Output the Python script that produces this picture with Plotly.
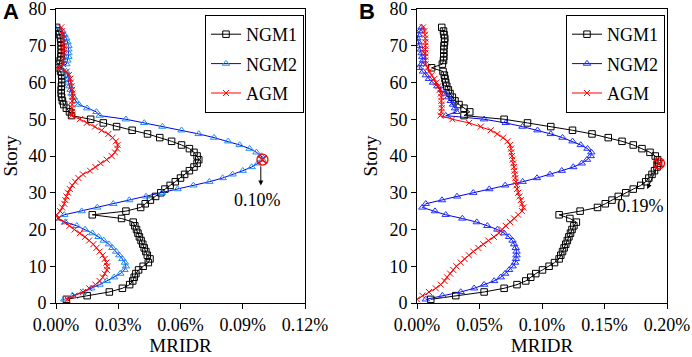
import plotly.graph_objects as go

stories = [75, 74, 73, 72, 71, 70, 69, 68, 67, 66, 65, 64, 63, 62, 61, 60, 59, 58, 57, 56,
           55, 54, 53, 52, 51, 50, 49, 48, 47, 46, 45, 44, 43, 42, 41, 40, 39, 38, 37, 36,
           35, 34, 33, 32, 31, 30, 29, 28, 27, 26, 25, 24, 23, 22, 21, 20, 19, 18, 17, 16,
           15, 14, 13, 12, 11, 10, 9, 8, 7, 6, 5, 4, 3, 2, 1]

# Panel A (values in %)
a_ngm1 = [0.0003, 0.0012, 0.0017, 0.0022, 0.0024, 0.0025, 0.0025, 0.0025, 0.0024, 0.0020,
          0.0014, 0.0003, 0.0022, 0.0027, 0.0028, 0.0028, 0.0026, 0.0025, 0.0025, 0.0027,
          0.0031, 0.0037, 0.0050, 0.0065, 0.0075, 0.0167, 0.0228, 0.0292, 0.0367, 0.0441,
          0.0500, 0.0557, 0.0605, 0.0643, 0.0665, 0.0680, 0.0688, 0.0680, 0.0665, 0.0643,
          0.0620, 0.0600, 0.0575, 0.0550, 0.0525, 0.0505, 0.0480, 0.0455, 0.0430, 0.0408,
          0.0337, 0.0175, 0.0316, 0.0372, 0.0380, 0.0388, 0.0395, 0.0402, 0.0410, 0.0418,
          0.0425, 0.0433, 0.0440, 0.0453, 0.0445, 0.0420, 0.0398, 0.0385, 0.0377, 0.0370,
          0.0355, 0.0320, 0.0257, 0.0150, 0.0050]
a_ngm2 = [0.0010, 0.0030, 0.0040, 0.0050, 0.0055, 0.0060, 0.0060, 0.0060, 0.0060, 0.0055,
          0.0050, 0.0005, 0.0050, 0.0055, 0.0060, 0.0060, 0.0065, 0.0070, 0.0075, 0.0085,
          0.0095, 0.0110, 0.0150, 0.0195, 0.0210, 0.0337, 0.0425, 0.0513, 0.0605, 0.0688,
          0.0762, 0.0830, 0.0885, 0.0933, 0.0966, 0.0990, 0.0995, 0.0973, 0.0943, 0.0900,
          0.0851, 0.0803, 0.0739, 0.0662, 0.0586, 0.0511, 0.0434, 0.0353, 0.0276, 0.0199,
          0.0124, 0.0040, 0.0005, 0.0045, 0.0100, 0.0140, 0.0175, 0.0205, 0.0230, 0.0255,
          0.0272, 0.0290, 0.0305, 0.0320, 0.0332, 0.0337, 0.0330, 0.0310, 0.0280, 0.0245,
          0.0210, 0.0170, 0.0130, 0.0080, 0.0040]
a_agm = [0.0025, 0.0030, 0.0033, 0.0035, 0.0036, 0.0037, 0.0037, 0.0037, 0.0036, 0.0035,
         0.0034, 0.0003, 0.0052, 0.0062, 0.0068, 0.0072, 0.0075, 0.0078, 0.0080, 0.0079,
         0.0078, 0.0078, 0.0078, 0.0078, 0.0075, 0.0115, 0.0148, 0.0188, 0.0220, 0.0252,
         0.0273, 0.0289, 0.0297, 0.0295, 0.0284, 0.0268, 0.0244, 0.0215, 0.0190, 0.0164,
         0.0130, 0.0108, 0.0092, 0.0078, 0.0067, 0.0058, 0.0050, 0.0045, 0.0040, 0.0030,
         0.0020, 0.0003, 0.0010, 0.0040, 0.0065, 0.0090, 0.0115, 0.0140, 0.0160, 0.0180,
         0.0195, 0.0210, 0.0225, 0.0235, 0.0243, 0.0247, 0.0245, 0.0235, 0.0225, 0.0210,
         0.0190, 0.0160, 0.0130, 0.0090, 0.0055]

# Panel B (values in %)
b_ngm1 = [0.0198, 0.0212, 0.0216, 0.0222, 0.0220, 0.0216, 0.0214, 0.0214, 0.0214, 0.0212,
          0.0203, 0.0117, 0.0208, 0.0219, 0.0224, 0.0230, 0.0238, 0.0251, 0.0264, 0.0283,
          0.0304, 0.0336, 0.0376, 0.0422, 0.0376, 0.0697, 0.0884, 0.1070, 0.1244, 0.1400,
          0.1530, 0.1640, 0.1730, 0.1800, 0.1864, 0.1906, 0.1925, 0.1933, 0.1920, 0.1900,
          0.1880, 0.1855, 0.1830, 0.1790, 0.1730, 0.1670, 0.1610, 0.1560, 0.1506, 0.1444,
          0.1305, 0.1137, 0.1223, 0.1275, 0.1255, 0.1240, 0.1228, 0.1215, 0.1203, 0.1190,
          0.1177, 0.1164, 0.1150, 0.1137, 0.1100, 0.1057, 0.1004, 0.0950, 0.0910, 0.0870,
          0.0800, 0.0697, 0.0537, 0.0310, 0.0110]
b_ngm2 = [0.0037, 0.0021, 0.0011, 0.0003, 0.0011, 0.0021, 0.0030, 0.0037, 0.0043, 0.0048,
          0.0037, 0.0016, 0.0048, 0.0070, 0.0096, 0.0128, 0.0163, 0.0198, 0.0224, 0.0250,
          0.0270, 0.0288, 0.0304, 0.0315, 0.0230, 0.0537, 0.0710, 0.0844, 0.0964, 0.1070,
          0.1164, 0.1244, 0.1310, 0.1364, 0.1395, 0.1390, 0.1360, 0.1318, 0.1250, 0.1158,
          0.1064, 0.0960, 0.0845, 0.0705, 0.0578, 0.0450, 0.0320, 0.0200, 0.0070, 0.0043,
          0.0144, 0.0230, 0.0363, 0.0478, 0.0563, 0.0643, 0.0697, 0.0737, 0.0764, 0.0777,
          0.0790, 0.0796, 0.0796, 0.0792, 0.0785, 0.0765, 0.0737, 0.0705, 0.0670, 0.0617,
          0.0537, 0.0457, 0.0350, 0.0203, 0.0070]
b_agm = [0.0048, 0.0060, 0.0064, 0.0067, 0.0067, 0.0067, 0.0067, 0.0067, 0.0067, 0.0067,
         0.0069, 0.0085, 0.0096, 0.0117, 0.0139, 0.0155, 0.0171, 0.0182, 0.0190, 0.0195,
         0.0195, 0.0198, 0.0198, 0.0195, 0.0187, 0.0283, 0.0417, 0.0510, 0.0590, 0.0643,
         0.0689, 0.0724, 0.0745, 0.0752, 0.0755, 0.0760, 0.0765, 0.0770, 0.0775, 0.0780,
         0.0783, 0.0787, 0.0790, 0.0795, 0.0800, 0.0810, 0.0820, 0.0830, 0.0840, 0.0850,
         0.0840, 0.0810, 0.0777, 0.0745, 0.0710, 0.0680, 0.0655, 0.0615, 0.0570, 0.0530,
         0.0490, 0.0450, 0.0415, 0.0380, 0.0350, 0.0315, 0.0290, 0.0265, 0.0240, 0.0220,
         0.0190, 0.0150, 0.0096, 0.0043, 0.0000]

series_names = ["NGM1", "NGM2", "AGM"]
peak_a = (0.0995, 39)
peak_b = (0.1936, 38)
peak_label_a = "0.10%"
peak_label_b = "0.19%"

W, H = 692, 357
SERIF = "Liberation Serif"
FS = 18

def px(x0, x1):
    return [x0 / W, x1 / W]

ydom = [(H - 303) / H, (H - 9) / H]

fig = go.Figure()

styles = [
    dict(line=dict(color="black", width=1),
         marker=dict(symbol="square-open", size=6.5, color="black", line=dict(width=1))),
    dict(line=dict(color="#0000EE", width=1),
         marker=dict(symbol="triangle-up-open", size=6.5, color="#1E8FF0", line=dict(width=1))),
    dict(line=dict(color="#FF0000", width=1),
         marker=dict(symbol="x-thin-open", size=6, color="#FF0000", line=dict(width=1, color="#FF0000"))),
]
styles_b = [
    styles[0],
    dict(line=dict(color="#0000EE", width=1),
         marker=dict(symbol="triangle-up-open", size=6.5, color="#2233FF", line=dict(width=1))),
    styles[2],
]

for name, vals, st in zip(series_names, [a_ngm1, a_ngm2, a_agm], styles):
    fig.add_trace(go.Scatter(x=vals, y=stories, mode="lines+markers", name=name,
                             xaxis="x", yaxis="y", legend="legend", legendgroup="a" + name,
                             **st))
for name, vals, st in zip(series_names, [b_ngm1, b_ngm2, b_agm], styles_b):
    fig.add_trace(go.Scatter(x=vals, y=stories, mode="lines+markers", name=name,
                             xaxis="x2", yaxis="y2", legend="legend2", legendgroup="b" + name,
                             **st))

# peak markers
fig.add_trace(go.Scatter(x=[peak_a[0]], y=[peak_a[1]], mode="markers", showlegend=False,
                         xaxis="x", yaxis="y",
                         marker=dict(symbol="circle-x-open", size=11, color="#FF0000",
                                     line=dict(width=1.3))))
fig.add_trace(go.Scatter(x=[peak_b[0]], y=[peak_b[1]], mode="markers", showlegend=False,
                         xaxis="x2", yaxis="y2",
                         marker=dict(symbol="circle-x-open", size=11, color="#FF0000",
                                     line=dict(width=1.3))))

axis_common = dict(showline=True, linecolor="black", linewidth=1, mirror=True,
                   showgrid=False, zeroline=False, ticks="outside", ticklen=5,
                   tickcolor="black", automargin=False, ticklabeloverflow="allow",
                   tickfont=dict(family=SERIF, size=FS, color="black"))
title_font = dict(family=SERIF, size=FS + 1, color="black")

fig.update_layout(
    width=W, height=H, autosize=False,
    margin=dict(l=0, r=0, t=0, b=0, pad=0),
    paper_bgcolor="white", plot_bgcolor="white",
    xaxis=dict(domain=px(56, 305), range=[0, 0.12], dtick=0.03, tick0=0,
               tickformat=".2f", ticksuffix="%", anchor="y",
               title=dict(text="MRIDR", font=title_font, standoff=4),
               **axis_common),
    yaxis=dict(domain=ydom, range=[0, 80], dtick=10, anchor="x",
               title=dict(text="Story", font=title_font, standoff=6),
               **axis_common),
    xaxis2=dict(domain=px(417, 667), range=[0, 0.2], dtick=0.05, tick0=0,
                tickformat=".2f", ticksuffix="%", anchor="y2",
                title=dict(text="MRIDR", font=title_font, standoff=4),
                **axis_common),
    yaxis2=dict(domain=ydom, range=[0, 80], dtick=10, anchor="x2",
                title=dict(text="Story", font=title_font, standoff=6),
                **axis_common),
    legend=dict(x=205 / W, y=(H - 15) / H, xanchor="left", yanchor="top",
                bgcolor="white", bordercolor="black", borderwidth=1,
                font=dict(family=SERIF, size=FS, color="black"),
                itemwidth=30, tracegroupgap=3, traceorder="grouped"),
    legend2=dict(x=566 / W, y=(H - 15) / H, xanchor="left", yanchor="top",
                 bgcolor="white", bordercolor="black", borderwidth=1,
                 font=dict(family=SERIF, size=FS, color="black"),
                 itemwidth=30, tracegroupgap=3, traceorder="grouped"),
)

fig.add_annotation(x=peak_a[0] - 0.0008, y=32, ax=peak_a[0] - 0.0008, ay=37.6,
                   xref="x", yref="y", axref="x", ayref="y", text="", showarrow=True,
                   arrowhead=2, arrowsize=1, arrowwidth=1, arrowcolor="black")
fig.add_annotation(x=0.0973, y=28, xref="x", yref="y", text=peak_label_a, showarrow=False,
                   font=dict(family=SERIF, size=FS, color="black"))
fig.add_annotation(x=0.1842, y=31, ax=0.1915, ay=36.6,
                   xref="x2", yref="y2", axref="x2", ayref="y2", text="", showarrow=True,
                   arrowhead=2, arrowsize=1, arrowwidth=1, arrowcolor="black")
fig.add_annotation(x=0.1786, y=26.4, xref="x2", yref="y2", text=peak_label_b, showarrow=False,
                   font=dict(family=SERIF, size=FS, color="black"))

fig.add_annotation(x=1 / W, y=(H - 11) / H, xref="paper", yref="paper", text="<b>A</b>",
                   showarrow=False, xanchor="left", yanchor="middle",
                   font=dict(family="Liberation Sans", size=22, color="black"))
fig.add_annotation(x=357 / W, y=(H - 11) / H, xref="paper", yref="paper", text="<b>B</b>",
                   showarrow=False, xanchor="left", yanchor="middle",
                   font=dict(family="Liberation Sans", size=22, color="black"))

fig.write_html("out.html", config={"displayModeBar": False},
               post_script="document.body.style.margin='0px';document.body.style.overflow='hidden';")
